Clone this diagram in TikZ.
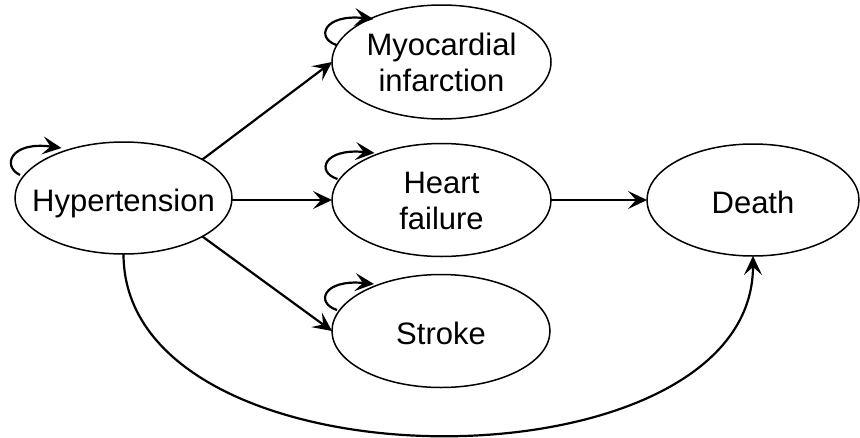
\documentclass[tikz,border=0pt]{standalone}
\usepackage{fontspec}
\setmainfont{Liberation Sans}
\usetikzlibrary{arrows.meta,calc,shapes.geometric}
\newcommand{\lbl}[2]{\raisebox{#1}[0pt][0pt]{\makebox[0pt]{\begin{tabular}[t]{@{}c@{}}#2\end{tabular}}}}
\tikzset{
  state/.style={draw=black, line width=1.5pt, ellipse, inner sep=0pt, outer sep=0pt,
    font=\fontsize{31}{36.7}\selectfont},
  arr/.style={line width=2.2pt, -{Stealth[length=19pt,width=18pt,inset=8pt]}},
}
\begin{document}
\begin{tikzpicture}[x=1pt,y=-1pt]
\useasboundingbox (0,0) rectangle (860,437);
\node[state, minimum width=217pt, minimum height=112pt] (h) at (123.5,198) {\lbl{-13pt}{Hypertension}};
\node[state, minimum width=219pt, minimum height=114pt] (mi) at (441.5,62) {\lbl{7pt}{Myocardial\\infarction}};
\node[state, minimum width=219pt, minimum height=113pt] (hf) at (441.5,200) {\lbl{7pt}{Heart\\failure}};
\node[state, minimum width=218pt, minimum height=113pt] (st) at (441,331) {\lbl{-13pt}{Stroke}};
\node[state, minimum width=212pt, minimum height=112pt] (d) at (753,200) {\lbl{-13pt}{Death}};
% transitions
\draw[arr] (h.26) -- (mi.west);
\draw[arr] (hf.west -| h.east) -- (hf.west);
\draw[arr] (h.-26) -- (st.west);
\draw[arr] (hf.east) -- (d.west);
\draw[arr] (h.south) .. controls +(0,241) and +(0,239) .. (d.south);
% self loops
\draw[arr] ($(h)+(-103.5,-23)$) .. controls ($(h)+(-122,-32)$) and ($(h)+(-113,-57)$) .. ($(h)+(-62,-50)$);
\draw[arr] ($(mi)+(-105,-17)$) .. controls ($(mi)+(-126,-24)$) and ($(mi)+(-118,-48)$) .. ($(mi)+(-68,-43)$);
\draw[arr] ($(hf)+(-104,-21)$) .. controls ($(hf)+(-126,-28)$) and ($(hf)+(-118,-52)$) .. ($(hf)+(-67,-47)$);
\draw[arr] ($(st)+(-104,-21)$) .. controls ($(st)+(-126,-28)$) and ($(st)+(-118,-52)$) .. ($(st)+(-67,-47)$);
\end{tikzpicture}
\end{document}
